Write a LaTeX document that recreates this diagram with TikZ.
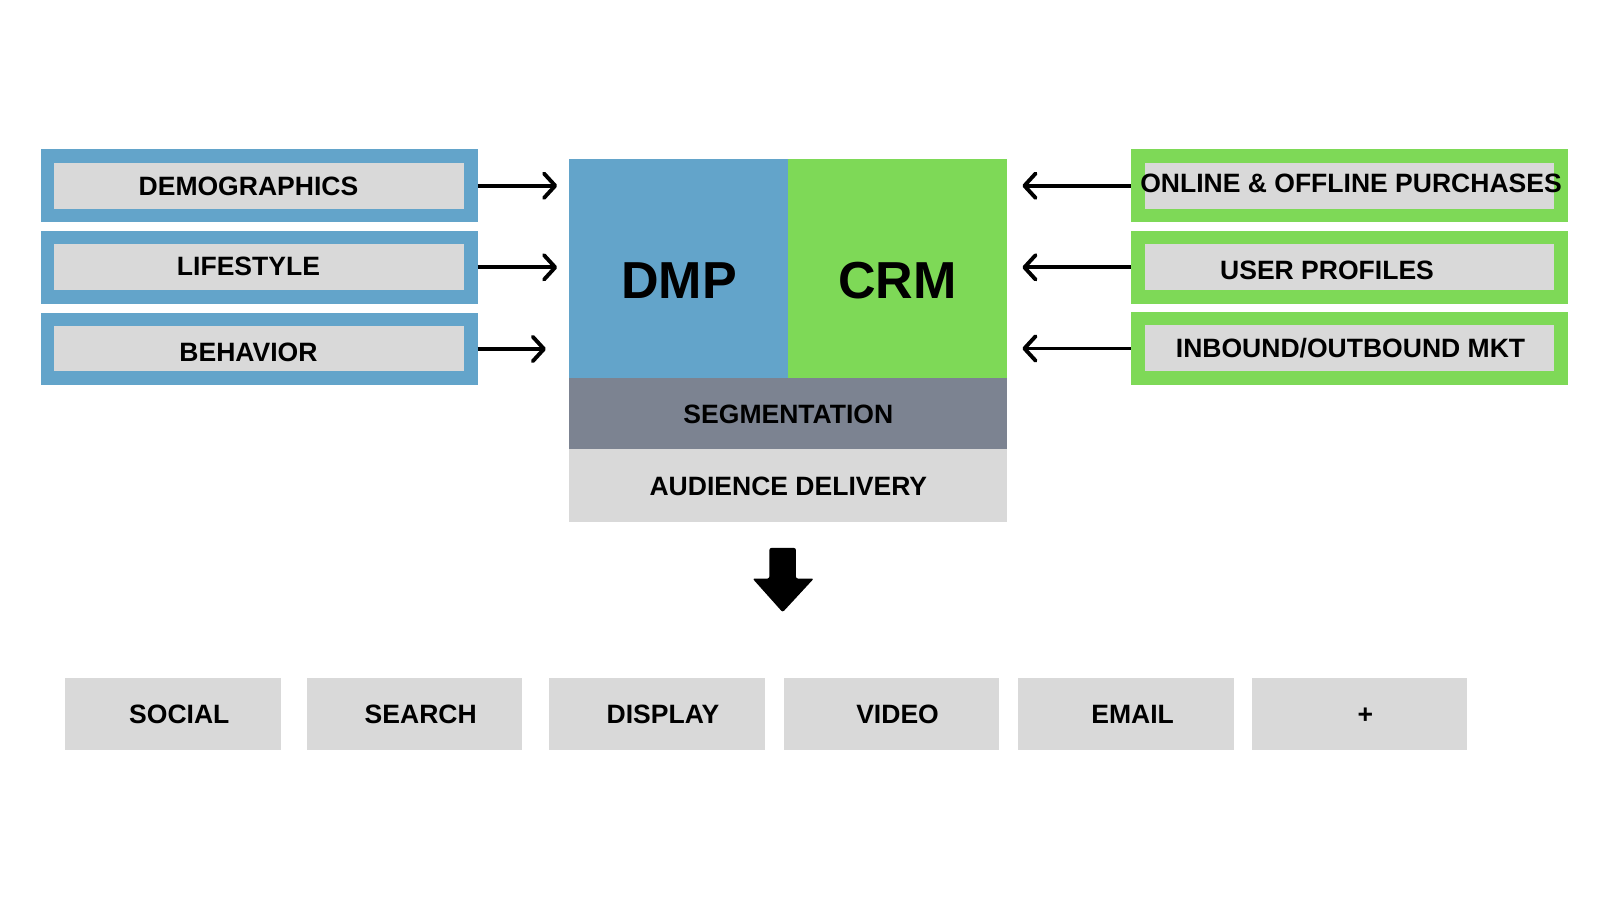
\documentclass[tikz,border=0pt]{standalone}
\usepackage{fontspec}
\setmainfont{Liberation Sans}
\usetikzlibrary{arrows.meta,calc}
\definecolor{dmpblue}{RGB}{99,164,202}
\definecolor{crmgreen}{RGB}{126,217,87}
\definecolor{boxgray}{RGB}{217,217,217}
\definecolor{seggray}{RGB}{124,131,145}
\begin{document}
\begin{tikzpicture}[x=1pt,y=-1pt,
  plain/.style={rectangle,inner sep=0pt,outer sep=0pt,draw=none},
  outerbox/.style={plain,minimum width=428pt,minimum height=71pt},
  innerbox/.style={plain,fill=boxgray,minimum width=402pt,minimum height=45pt},
  chanbox/.style={plain,fill=boxgray,minimum width=211pt,minimum height=71pt},
  lbl/.style={inner sep=0pt,outer sep=0pt,anchor=base,font=\bfseries\fontsize{26}{26}\selectfont},
  biglbl/.style={inner sep=0pt,outer sep=0pt,anchor=base,font=\bfseries\fontsize{51}{51}\selectfont},
  feed/.style={line width=3.8pt,-{Straight Barb[length=11pt,width=24pt,round]}}
]
\useasboundingbox (0,0) rectangle (1568,882);
\fill[white] (0,0) rectangle (1568,882);

% left inputs
\node[outerbox,fill=dmpblue] (L1) at (254,182) {};
\node[outerbox,fill=dmpblue] (L2) at (254,262) {};
\node[outerbox,fill=dmpblue] (L3) at (254,342) {};
\node[innerbox] (L1i) at (254,182) {};
\node[innerbox] (L2i) at (254,262) {};
\node[innerbox] (L3i) at (254,341.5) {};
\node[lbl] (L1t) at (243.5,191.5) {DEMOGRAPHICS};
\node[lbl] (L2t) at (243.5,270) {LIFESTYLE};
\node[lbl] (L3t) at (243.5,354) {BEHAVIOR};

% right inputs
\node[outerbox,fill=crmgreen,minimum width=429pt] (R1) at (1322.5,182) {};
\node[outerbox,fill=crmgreen,minimum width=429pt] (R2) at (1322.5,262) {};
\node[outerbox,fill=crmgreen,minimum width=429pt] (R3) at (1322.5,341.5) {};
\node[innerbox,minimum width=401pt] (R1i) at (1322.5,182) {};
\node[innerbox,minimum width=401pt] (R2i) at (1322.5,262) {};
\node[innerbox,minimum width=401pt] (R3i) at (1322.5,341) {};
\node[lbl] (R1t) at (1324,189) {ONLINE \& OFFLINE PURCHASES};
\node[lbl] (R2t) at (1300.5,274) {USER PROFILES};
\node[lbl] (R3t) at (1323.5,350.7) {INBOUND/OUTBOUND MKT};

% centre block
\node[plain,fill=dmpblue,minimum width=214pt,minimum height=214pt] (dmp) at (665,263) {};
\node[plain,fill=crmgreen,minimum width=215pt,minimum height=214pt] (crm) at (879.5,263) {};
\node[plain,fill=seggray,minimum width=429pt,minimum height=70pt] (seg) at (772.5,405) {};
\node[plain,fill=boxgray,minimum width=429pt,minimum height=72pt] (aud) at (772.5,476) {};
\node[biglbl] (dmpt) at (665.6,292.5) {DMP};
\node[biglbl] (crmt) at (879.6,292.5) {CRM};
\node[lbl] (segt) at (772.6,415) {SEGMENTATION};
\node[lbl] (audt) at (772.6,485.3) {AUDIENCE DELIVERY};

% arrows in
\draw[feed,shorten >=12pt] (L1.east) -- (L1.east -| dmp.west);
\draw[feed,shorten >=12pt] (L2.east) -- (L2.east -| dmp.west);
\draw[feed,shorten >=23pt] (L3.east) -- (L3.east -| dmp.west);
\draw[feed,shorten >=15pt] (R1.west) -- (R1.west -| crm.east);
\draw[feed,shorten >=15pt] (R2.west) -- (R2.west -| crm.east);
\draw[feed,shorten >=15pt] (R3.west) -- (R3.west -| crm.east);

% down arrow
\fill[black,rounded corners=2pt] (754,537) -- (780,537) -- (780,567) -- (797.5,567)
  -- (767,600) -- (737.5,567) -- (754,567) -- cycle;

% channels
\node[chanbox] (c1) at (169.5,699.5) {};
\node[chanbox] (c2) at (406,699.5) {};
\node[chanbox] (c3) at (644,699.5) {};
\node[chanbox] (c4) at (873.5,699.5) {};
\node[chanbox] (c5) at (1103.5,699.5) {};
\node[chanbox] (c6) at (1332.5,699.5) {};
\node[lbl] (c1t) at (175.7,709) {SOCIAL};
\node[lbl] (c2t) at (412.3,709) {SEARCH};
\node[lbl] (c3t) at (649.7,709) {DISPLAY};
\node[lbl] (c4t) at (879.6,709) {VIDEO};
\node[lbl] (c5t) at (1110,709) {EMAIL};
\node[lbl] (c6t) at (1338,709) {+};
\end{tikzpicture}
\end{document}
